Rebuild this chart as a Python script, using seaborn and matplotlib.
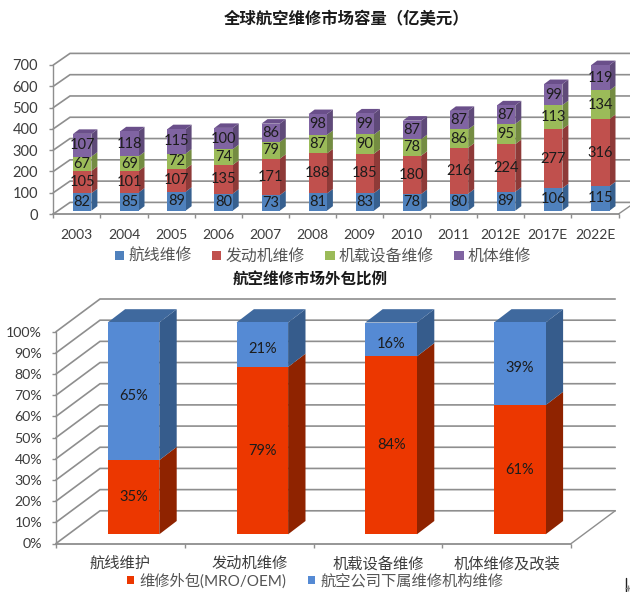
import numpy as np
import matplotlib
matplotlib.use("Agg")
import matplotlib.pyplot as plt
from matplotlib.lines import Line2D
from matplotlib.patches import Polygon
import seaborn as sns

# ---- data ----
years = ["2003", "2004", "2005", "2006", "2007", "2008", "2009", "2010", "2011", "2012E", "2017E", "2022E"]
line_maint = [82, 85, 89, 80, 73, 81, 83, 78, 80, 89, 106, 115]
engine_maint = [105, 101, 107, 135, 171, 188, 185, 180, 216, 224, 277, 316]
onboard_maint = [67, 69, 72, 74, 79, 87, 90, 78, 86, 95, 113, 134]
airframe_maint = [107, 118, 115, 100, 86, 98, 99, 87, 87, 87, 99, 119]
market_names = ["航线维修", "发动机维修", "机载设备维修", "机体维修"]

outsource_cats = ["航线维护", "发动机维修", "机载设备维修", "机体维修及改装"]
outsourced = [35, 79, 84, 61]
in_house = [65, 21, 16, 39]
outsource_names = ["维修外包(MRO/OEM)", "航空公司下属维修机构维修"]

sns.set_theme(style="white")
plt.rcParams["font.family"] = ["Lato", "Noto Sans CJK SC", "DejaVu Sans"]
GRID = "#8e8e8e"
TXT = "#3c3c3c"
W, H = 630, 592
fig = plt.figure(figsize=(W / 100, H / 100), dpi=100, facecolor="white")


def make_axes(x0, x1, y0, y1):
    return fig.add_axes([x0 / W, (H - y0) / H, (x1 - x0) / W, (y0 - y1) / H])


def stacked_3d(ax, cats, series, names, faces, sides, top, ymax, yticks, yfmt,
               width, shift, lift, bar_dx, bar_dy, wall_dx, wall_dy, label_size):
    n = len(cats)
    # walls and floor
    for v in yticks:
        ax.plot([-0.5, -0.5 + wall_dx, n - 0.5 + wall_dx], [v, v + wall_dy, v + wall_dy],
                color=GRID, lw=1.2, zorder=1, clip_on=False, solid_joinstyle="miter")
    ax.plot([n - 0.5, n - 0.5 + wall_dx], [0, wall_dy], color=GRID, lw=1.0, zorder=1, clip_on=False)
    ax.plot([-0.5, n - 0.5], [0, 0], color=GRID, lw=1.3, zorder=1.5, clip_on=False)
    ax.plot([-0.5, -0.5], [0, ymax], color=GRID, lw=1.0, zorder=1.5, clip_on=False)

    base = np.zeros(n)
    for k, vals in enumerate(series):
        vals = np.asarray(vals, dtype=float)
        sns.barplot(x=cats, y=vals, bottom=base + lift, color=faces[k], saturation=1, legend=False,
                    width=width, errorbar=None, linewidth=0, zorder=3, label=names[k], ax=ax)
        cont = ax.containers[-1]
        for r in cont:
            r.set_x(r.get_x() + shift)
            r.set_clip_on(False)
            x0, y0, w, h = r.get_x(), r.get_y(), r.get_width(), r.get_height()
            ax.add_patch(Polygon([(x0 + w, y0), (x0 + w + bar_dx, y0 + bar_dy),
                                  (x0 + w + bar_dx, y0 + h + bar_dy), (x0 + w, y0 + h)],
                                 closed=True, fc=sides[k], ec="none", zorder=2.9, clip_on=False))
            if k == len(series) - 1:
                ax.add_patch(Polygon([(x0, y0 + h), (x0 + w, y0 + h),
                                      (x0 + w + bar_dx, y0 + h + bar_dy), (x0 + bar_dx, y0 + h + bar_dy)],
                                     closed=True, fc=top, ec="none", zorder=2.9, clip_on=False))
        ax.bar_label(cont, labels=[yfmt(v) for v in vals], label_type="center",
                     fontsize=label_size, color="#1c1c1c", zorder=5)
        base = base + vals

    ax.set_xlim(-0.5, n - 0.5)
    ax.set_ylim(0, ymax)
    ax.set_xticks(range(n))
    ax.set_xticklabels(cats)
    ax.set_xticks(np.arange(n + 1) - 0.5, minor=True)
    ax.set_yticks(yticks)
    ax.set_yticklabels([yfmt(v) for v in yticks])
    ax.set_xlabel("")
    ax.set_ylabel("")
    for s in ax.spines.values():
        s.set_visible(False)
    ax.grid(False)
    ax.tick_params(axis="x", which="major", length=0, colors=TXT)
    ax.tick_params(axis="x", which="minor", length=3, width=1, color=GRID, bottom=True)
    ax.tick_params(axis="y", which="major", length=3, width=1, color=GRID, left=True, labelcolor=TXT)
    ax.patch.set_visible(False)


# ---- top chart ----
ax1 = make_axes(53.3, 618.5, 214, 65)
px = 149 / 700
stacked_3d(ax1, years, [line_maint, engine_maint, onboard_maint, airframe_maint], market_names,
           ["#4f81bd", "#c0504d", "#9bbb59", "#8064a2"],
           ["#37608f", "#8e3a38", "#748c42", "#5f4a79"], "#6a4f8a",
           700, np.arange(0, 701, 100), lambda v: f"{v:.0f}",
           18.3 / 47.1, 5.4 / 47.1, 3.3 / px, 6 / 47.1, 4.5 / px, 16.7 / 47.1, 11.6 / px, 10.5)
ax1.tick_params(axis="x", which="major", labelsize=10, pad=11)
ax1.tick_params(axis="y", which="major", labelsize=10.5, pad=8)

# ---- bottom chart ----
ax2 = make_axes(56, 571.2, 543.5, 331.7)
px2 = 211.8 / 100
stacked_3d(ax2, outsource_cats, [outsourced, in_house], outsource_names,
           ["#ec3700", "#558ad4"], ["#8f2300", "#365c8c"], "#3f699e",
           100, np.arange(0, 101, 10), lambda v: f"{v:.0f}%",
           51.6 / 128.8, 13.1 / 128.8, 9.2 / px2, 17.4 / 128.8, 13.3 / px2, 44 / 128.8, 32.7 / px2, 10.5)
ax2.tick_params(axis="x", which="major", labelsize=11, pad=9.5)
ax2.tick_params(axis="y", which="major", labelsize=10.2, pad=7)

# ---- titles ----
fig.text(346.5 / W, 1 - 19.5 / H, "全球航空维修市场容量（亿美元）", ha="center", va="center",
         family="Noto Sans CJK SC", weight="bold", fontsize=11.8, color="#1a1a1a")
fig.text(310 / W, 1 - 279.5 / H, "航空维修市场外包比例", ha="center", va="center",
         family="Noto Sans CJK SC", weight="bold", fontsize=11.2, color="#1a1a1a")

# ---- legends ----
fig.legend(ax1.containers, market_names, loc="center", bbox_to_anchor=(323 / W, 1 - 256.5 / H),
           ncol=4, frameon=False, fontsize=11.4, labelcolor="#555555", handlelength=0.58, handleheight=0.58,
           handletextpad=0.25, columnspacing=1.3, borderpad=0, borderaxespad=0)
fig.legend(ax2.containers, outsource_names, loc="center", bbox_to_anchor=(315 / W, 1 - 581 / H),
           ncol=2, frameon=False, fontsize=11, labelcolor="#555555", handlelength=0.46, handleheight=0.46,
           handletextpad=0.35, columnspacing=1.45, borderpad=0, borderaxespad=0)

# ---- stray marks at the lower right of the picture ----
fig.add_artist(Line2D([626 / W, 626 / W], [1 - 578 / H, 1 - 592 / H], color="#222222", lw=1))
fig.add_artist(Line2D([628 / W], [1 - 588 / H], color="#888888", marker="+", ms=4, mew=1, ls="none"))

fig.savefig("out.png", dpi=100, facecolor="white")
